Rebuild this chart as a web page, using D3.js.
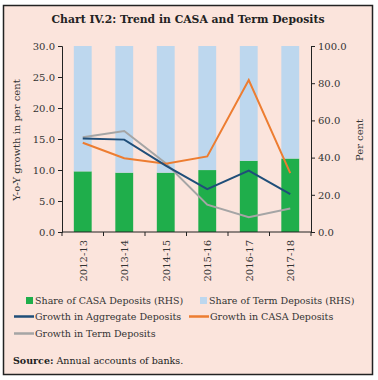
<!DOCTYPE html>
<html><head><meta charset="utf-8">
<script src="https://cdn.jsdelivr.net/npm/d3@7"></script>
<style>html,body{margin:0;padding:0;background:#fff;}svg{display:block;}</style>
</head><body>
<svg id="c" width="378" height="380"></svg>
<script>
const categories = ["2012-13","2013-14","2014-15","2015-16","2016-17","2017-18"];
const casaShare = [32.6, 31.9, 31.9, 33.3, 38.3, 39.5];
const termShare = [67.4, 68.1, 68.1, 66.7, 61.7, 60.5];
const aggGrowth = [15.1, 14.9, 10.7, 6.9, 9.9, 6.1];
const casaGrowth = [14.4, 11.9, 11.0, 12.2, 24.5, 9.5];
const termGrowth = [15.3, 16.3, 11.1, 4.4, 2.4, 3.8];
const leftTicks = [0, 5, 10, 15, 20, 25, 30];
const rightTicks = [0, 20, 40, 60, 80, 100];

const font = "'DejaVu Serif', serif";
const svg = d3.select("#c");
svg.append("rect").attr("x",3.5).attr("y",5.5).attr("width",369).attr("height",369)
  .attr("fill","#fbe4dc").attr("stroke","#222").attr("stroke-width",1.5);
svg.append("text").attr("x",188).attr("y",23).attr("text-anchor","middle")
  .attr("font-family",font).attr("font-weight","bold").attr("font-size",10.8).attr("fill","#222")
  .text("Chart IV.2: Trend in CASA and Term Deposits");

const L=62, R=311, T=46, B=232;
const x = d3.scaleBand().domain(categories).range([L,R]).paddingInner(0.57).paddingOuter(0.285);
const xb = d3.scaleBand().domain(categories).range([L,R]);
const yL = d3.scaleLinear().domain([0,30]).range([B,T]);
const yR = d3.scaleLinear().domain([0,100]).range([B,T]);

const g = svg.append("g");
g.selectAll(".casa").data(categories).join("rect")
  .attr("x",d=>x(d)).attr("width",x.bandwidth())
  .attr("y",(d,i)=>yR(casaShare[i])).attr("height",(d,i)=>yR(0)-yR(casaShare[i]))
  .attr("fill","#1fae4b");
g.selectAll(".term").data(categories).join("rect")
  .attr("x",d=>x(d)).attr("width",x.bandwidth())
  .attr("y",(d,i)=>yR(casaShare[i]+termShare[i])).attr("height",(d,i)=>yR(casaShare[i])-yR(casaShare[i]+termShare[i]))
  .attr("fill","#bdd7ee");

const cx = d=>xb(d)+xb.bandwidth()/2;
function drawLine(vals,color){
  g.append("path").datum(vals)
   .attr("d",d3.line().x((v,i)=>cx(categories[i])).y(v=>yL(v)))
   .attr("fill","none").attr("stroke",color).attr("stroke-width",2);
}
drawLine(termGrowth,"#a5a5a5");
drawLine(casaGrowth,"#ed7d31");
drawLine(aggGrowth,"#1f4e79");

const axL = svg.append("g").attr("transform",`translate(${L},0)`)
  .call(d3.axisLeft(yL).tickValues(leftTicks).tickFormat(d3.format(".1f")).tickSize(4));
const axR = svg.append("g").attr("transform",`translate(${R},0)`)
  .call(d3.axisRight(yR).tickValues(rightTicks).tickFormat(d3.format(".1f")).tickSize(4));
const axX = svg.append("g").attr("transform",`translate(0,${B})`);
axX.append("line").attr("x1",L).attr("x2",R).attr("y1",0).attr("y2",0).attr("stroke","#222");
axX.selectAll(".tk").data(categories.concat(["end"])).join("line")
  .attr("x1",(d,i)=>L+i*xb.bandwidth()).attr("x2",(d,i)=>L+i*xb.bandwidth())
  .attr("y1",0).attr("y2",4).attr("stroke","#222");
axX.selectAll(".lb").data(categories).join("text")
  .attr("transform",d=>`translate(${cx(d)+4},8) rotate(-90)`)
  .attr("text-anchor","end").attr("font-family",font).attr("font-size",10).attr("fill","#333")
  .text(d=>d);
[axL,axR].forEach(a=>{
  a.select(".domain").attr("stroke","#222");
  a.selectAll(".tick line").attr("stroke","#222");
  a.selectAll(".tick text").attr("font-family",font).attr("font-size",10).attr("fill","#333");
});

svg.append("text").attr("transform","translate(20,140) rotate(-90)").attr("text-anchor","middle")
  .attr("font-family",font).attr("font-size",10).attr("fill","#333").text("Y-o-Y growth in per cent");
svg.append("text").attr("transform","translate(363,140) rotate(-90)").attr("text-anchor","middle")
  .attr("font-family",font).attr("font-size",10).attr("fill","#333").text("Per cent");

const leg = [
  {t:"Share of CASA Deposits (RHS)", type:"rect", c:"#1fae4b", x:26, y:304},
  {t:"Share of Term Deposits (RHS)", type:"rect", c:"#bdd7ee", x:200, y:304},
  {t:"Growth in Aggregate Deposits", type:"line", c:"#1f4e79", x:14, y:320},
  {t:"Growth in CASA Deposits", type:"line", c:"#ed7d31", x:189, y:320},
  {t:"Growth in Term Deposits", type:"line", c:"#a5a5a5", x:14, y:337}
];
const lfs = 9.5;
leg.forEach(l=>{
  if(l.type==="rect"){
    svg.append("rect").attr("x",l.x).attr("y",l.y-7).attr("width",7).attr("height",7).attr("fill",l.c);
    svg.append("text").attr("x",l.x+9).attr("y",l.y).attr("font-family",font).attr("font-size",lfs)
      .attr("fill","#333").text(l.t);
  } else {
    svg.append("line").attr("x1",l.x).attr("x2",l.x+20).attr("y1",l.y-3.5).attr("y2",l.y-3.5)
      .attr("stroke",l.c).attr("stroke-width",2.5);
    svg.append("text").attr("x",l.x+21).attr("y",l.y).attr("font-family",font).attr("font-size",lfs)
      .attr("fill","#333").text(l.t);
  }
});
const src = svg.append("text").attr("x",13).attr("y",364).attr("font-family",font).attr("font-size",lfs).attr("fill","#222");
src.append("tspan").attr("font-weight","bold").text("Source:");
src.append("tspan").text(" Annual accounts of banks.");
</script>
</body></html>
